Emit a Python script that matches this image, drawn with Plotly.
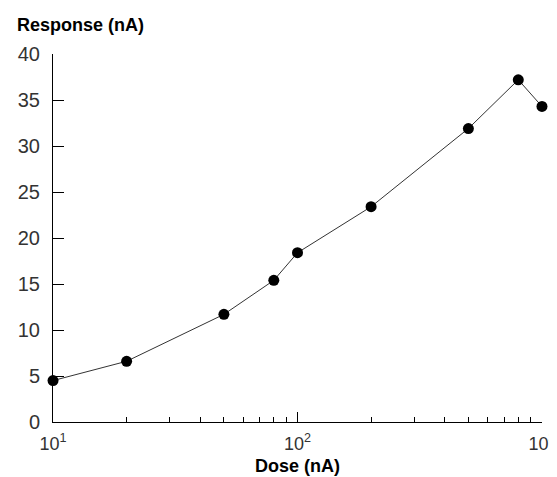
import plotly.graph_objects as go

dose = [10, 20, 50, 80, 100, 200, 500, 800, 1000]
response = [4.5, 6.6, 11.7, 15.4, 18.4, 23.4, 31.9, 37.2, 34.3]

x_tickvals = [10, 100, 1000]
x_ticktext = ["10<sup>1</sup>", "10<sup>2</sup>", "10<sup>3</sup>"]
x_minor = [20, 30, 40, 50, 60, 70, 80, 90, 200, 300, 400, 500, 600, 700, 800, 900]
y_tickvals = [0, 5, 10, 15, 20, 25, 30, 35, 40]

fig = go.Figure()
fig.add_trace(go.Scatter(
    x=dose, y=response, mode="lines+markers",
    line=dict(color="#333333", width=1),
    marker=dict(color="black", size=11, symbol="circle"),
    showlegend=False, cliponaxis=False,
))

# page body has an 8px default margin; figure offset accordingly, extra right room for the last tick label
fig.update_layout(
    width=560, height=469,
    margin=dict(l=45, r=26, t=46, b=55),
    paper_bgcolor="white", plot_bgcolor="white",
    font=dict(family="Liberation Sans, Arial, sans-serif", color="#333333", size=20),
    xaxis=dict(
        type="log", range=[0.9999, 3.0001], automargin=False,
        tickvals=x_tickvals, ticktext=x_ticktext,
        tickfont=dict(size=18),
        ticks="inside", ticklen=10, tickcolor="black", tickwidth=1,
        showline=True, linecolor="black", linewidth=1,
        showgrid=False, zeroline=False,
        ticklabelstandoff=5, ticklabeloverflow="allow",
        minor=dict(tickvals=x_minor, ticks="inside", ticklen=5, tickcolor="black", showgrid=False),
        title=dict(text="<b>Dose (nA)</b>", font=dict(size=18, color="black"), standoff=6),
    ),
    yaxis=dict(
        range=[0, 40.001], automargin=False,
        tickvals=y_tickvals,
        ticks="inside", ticklen=11, tickcolor="black", tickwidth=1,
        showline=True, linecolor="black", linewidth=1,
        showgrid=False, zeroline=False,
        ticklabelstandoff=8,
    ),
    annotations=[dict(
        text="<b>Response (nA)</b>", xref="paper", yref="paper",
        x=-0.078, y=1.0, yshift=29, xanchor="left", yanchor="middle",
        showarrow=False, font=dict(size=18, color="black"),
    )],
)

fig.write_html("out.html")
